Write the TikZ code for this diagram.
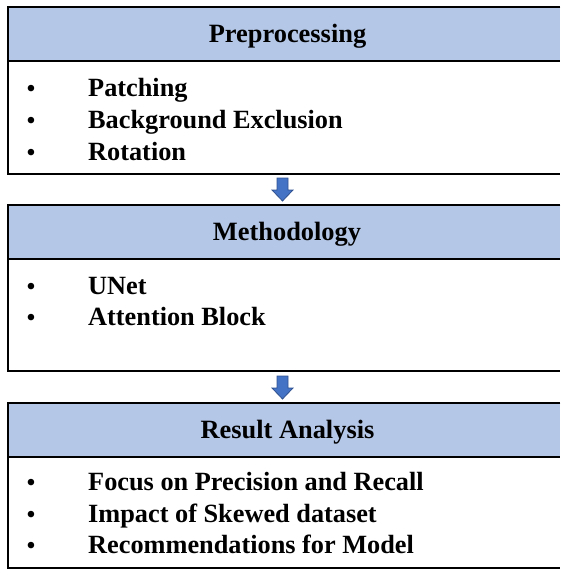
\documentclass[tikz,border=0pt]{standalone}
\usepackage{fontspec}
\setmainfont{Liberation Serif}
\definecolor{hdrblue}{HTML}{B4C7E7}
\definecolor{arrblue}{HTML}{4472C4}
\definecolor{arredge}{HTML}{2F528F}
\begin{document}
\begin{tikzpicture}[x=1pt,y=1pt,
  hdr/.style={fill=hdrblue,rectangle,anchor=north west,minimum width=552pt,minimum height=54pt,inner sep=0pt},
  bodybox/.style={fill=white,rectangle,anchor=north west,minimum width=552pt,minimum height=113pt,inner sep=0pt},
  edge/.style={draw=black,line width=2pt},
  htext/.style={font=\bfseries\fontsize{26.4}{30}\selectfont,anchor=base,inner sep=0pt},
  itemtext/.style={font=\bfseries\fontsize{26.3}{30}\selectfont,anchor=base west,inner sep=0pt},
  bul/.style={font=\bfseries\fontsize{24}{30}\selectfont,anchor=base,inner sep=0pt},
  blockarrow/.style={fill=arrblue,draw=arredge,line width=0.8pt,line join=miter}
]
\useasboundingbox (0,0) rectangle (560,-570);
% Box 1
\node[bodybox] (b1) at (8,-61) {};
\node[hdr] (h1) at (8,-7) {};
\draw[edge] (h1.north east) -- (h1.north west) -- (b1.south west) -- (b1.south east);
\draw[edge] (h1.south west) -- (h1.south east);
\node[htext] (t1) at (287.5,-42) {Preprocessing};
\node[bul] (b1a) at (31,-96) {•};
\node[itemtext] (i1a) at (88,-96) {Patching};
\node[bul] (b1b) at (31,-128) {•};
\node[itemtext] (i1b) at (88,-128) {Background Exclusion};
\node[bul] (b1c) at (31,-160) {•};
\node[itemtext] (i1c) at (88,-160) {Rotation};
% Box 2
\node[bodybox] (b2) at (8,-258) {};
\node[hdr] (h2) at (8,-205) {};
\draw[edge] (h2.north east) -- (h2.north west) -- (b2.south west) -- (b2.south east);
\draw[edge] (h2.south west) -- (h2.south east);
\node[htext] (t2) at (287,-240) {Methodology};
\node[bul] (b2a) at (31,-294) {•};
\node[itemtext] (i2a) at (88,-294) {UNet};
\node[bul] (b2b) at (31,-325) {•};
\node[itemtext] (i2b) at (88,-325) {Attention Block};
% Box 3
\node[bodybox] (b3) at (8,-455) {};
\node[hdr] (h3) at (8,-403) {};
\draw[edge] (h3.north east) -- (h3.north west) -- (b3.south west) -- (b3.south east);
\draw[edge] (h3.south west) -- (h3.south east);
\node[htext] (t3) at (287.5,-438) {Result Analysis};
\node[bul] (b3a) at (31,-490) {•};
\node[itemtext] (i3a) at (88,-490) {Focus on Precision and Recall};
\node[bul] (b3b) at (31,-522) {•};
\node[itemtext] (i3b) at (88,-522) {Impact of Skewed dataset};
\node[bul] (b3c) at (31,-553) {•};
\node[itemtext] (i3c) at (88,-553) {Recommendations for Model};
% Arrows
\coordinate (a1) at (282.5,-178);
\coordinate (a2) at (282.5,-376);
\foreach \c in {a1,a2}{
  \draw[blockarrow] (\c) ++(-5.5,0) -- ++(11,0) -- ++(0,-12) -- ++(5,0) -- ++(-10.5,-11) -- ++(-10.5,11) -- ++(5,0) -- cycle;
}
\end{tikzpicture}
\end{document}
